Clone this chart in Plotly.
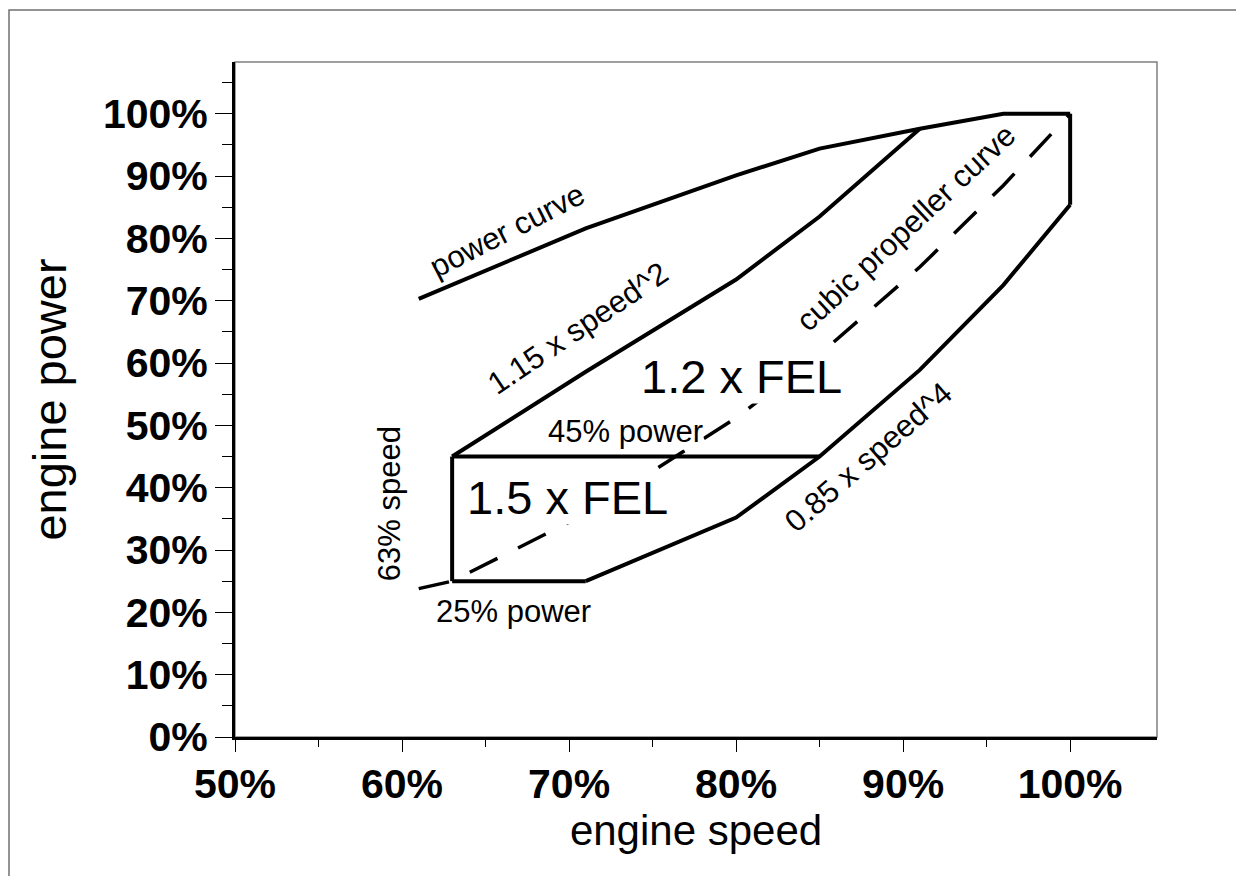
import plotly.graph_objects as go

# ---- data (engine speed %, engine power %) ----
power_speed = [61, 71, 80, 85, 91, 96, 100]
power_curve = [70.3, 81.6, 90.1, 94.4, 97.6, 100, 100]

upper_speed = [63, 71, 80, 85, 91]
upper_limit = [45, 58.6, 73.4, 83.5, 97.6]          # 1.15 x speed^2

lower_speed = [71, 80, 85, 91, 96, 100]
lower_limit = [25, 35.2, 45, 58.9, 72.5, 85.4]       # 0.85 x speed^4

right_speed = [100, 100]
right_limit = [85.4, 100]

prop_speed = [61, 63, 71, 80, 85, 91, 96, 100]
prop_curve = [23.8, 25, 35.8, 51.2, 61.4, 75.4, 88.5, 100]  # cubic propeller curve

p45_speed = [63, 85]
p45_power = [45, 45]
p25_speed = [63, 71]
p25_power = [25, 25]
s63_speed = [63, 63]
s63_power = [25, 45]

x_ticks = [50, 60, 70, 80, 90, 100]
x_ticktext = ["50%", "60%", "70%", "80%", "90%", "100%"]
x_minor = [55, 65, 75, 85, 95]
y_ticks = [0, 10, 20, 30, 40, 50, 60, 70, 80, 90, 100]
y_ticktext = ["0%", "10%", "20%", "30%", "40%", "50%", "60%", "70%", "80%", "90%", "100%"]
y_minor = [5, 15, 25, 35, 45, 55, 65, 75, 85, 95, 105]

FONT = "Arial, Liberation Sans, sans-serif"
LW = 4

fig = go.Figure()

def solid(xs, ys, name):
    fig.add_trace(go.Scatter(x=xs, y=ys, mode="lines", name=name,
                             line=dict(color="black", width=LW), hoverinfo="skip"))

solid(power_speed, power_curve, "power curve")
solid(upper_speed, upper_limit, "1.15 x speed^2")
solid(lower_speed, lower_limit, "0.85 x speed^4")
solid(right_speed, right_limit, "100% speed")
solid(p45_speed, p45_power, "45% power")
solid(p25_speed, p25_power, "25% power")
solid(s63_speed, s63_power, "63% speed")
fig.add_trace(go.Scatter(x=prop_speed, y=prop_curve, mode="lines", name="cubic propeller curve",
                         line=dict(color="black", width=3.5, dash="31px,23px"), hoverinfo="skip"))

def label(x, y, text, size=30, angle=0, bg=None):
    fig.add_annotation(x=x, y=y, xref="x", yref="y", text=text, showarrow=False,
                       textangle=angle, font=dict(family=FONT, size=size, color="black"),
                       bgcolor=bg if bg else "rgba(0,0,0,0)", borderpad=0)

label(66.3, 81.2, "power curve", 31, -27)
label(70.5, 65.6, "1.15 x speed^2", 31, -34)
label(90.2, 81.7, "cubic propeller curve", 31, -43)
label(87.9, 44.8, "0.85 x speed^4", 31, -41)
label(59.3, 37.4, "63% speed", 31, -90)
label(73.4, 49.0, "45% power", 31, 0, "white")
label(66.7, 20.1, "25% power", 31, 0)
label(69.9, 38.5, "1.5 x FEL", 47, 0, "white")
label(80.3, 57.9, "1.2 x FEL", 47, 0, "white")

# page is rendered with an 8px body margin, so work in shifted pixel coordinates
OFF = 8
W, H = 1244 - OFF, 876 - OFF
L, R, T, B = 235 - OFF, 1157 - OFF, 62 - OFF, 737 - OFF
pw, ph = R - L, B - T

# outer frame (extends past the page on the right and bottom)
fig.add_shape(type="rect", xref="paper", yref="paper",
              x0=(9 - OFF - L) / pw, x1=2.0, y0=-2.0, y1=(B - (10 - OFF)) / ph,
              line=dict(color="#707070", width=1.5), fillcolor="rgba(0,0,0,0)", layer="below")
# plot-area border (top/right thin gray)
fig.add_shape(type="rect", xref="paper", yref="paper", x0=0, x1=1, y0=0, y1=1,
              line=dict(color="#808080", width=1.5), fillcolor="rgba(0,0,0,0)", layer="below")

fig.update_layout(
    width=W, height=H,
    margin=dict(l=L, r=W - R, t=T, b=H - B, pad=0),
    paper_bgcolor="white", plot_bgcolor="white",
    showlegend=False,
    font=dict(family=FONT, color="black"),
)

fig.update_xaxes(
    range=[50, 105.2], tickmode="array", tickvals=x_ticks, ticktext=x_ticktext,
    tickfont=dict(family=FONT, size=41, color="black", weight="bold"),
    ticks="outside", ticklen=12, tickwidth=1, tickcolor="black",
    minor=dict(tickmode="array", tickvals=x_minor, ticks="outside", ticklen=7,
               tickwidth=1, tickcolor="black"),
    showline=True, linecolor="black", linewidth=3, showgrid=False, zeroline=False,
    ticklabelstandoff=-3,
    title=dict(text="engine speed", font=dict(family=FONT, size=42, color="black"), standoff=7),
)
fig.update_yaxes(
    range=[0, 108.3], tickmode="array", tickvals=y_ticks, ticktext=y_ticktext,
    tickfont=dict(family=FONT, size=41, color="black", weight="bold"),
    ticks="outside", ticklen=17, tickwidth=1, tickcolor="black",
    minor=dict(tickmode="array", tickvals=y_minor, ticks="outside", ticklen=10,
               tickwidth=1, tickcolor="black"),
    showline=True, linecolor="black", linewidth=3, showgrid=False, zeroline=False,
    ticklabelstandoff=-1,
    title=dict(text="engine power", font=dict(family=FONT, size=47, color="black"), standoff=22),
)

fig.write_html("out.html")
